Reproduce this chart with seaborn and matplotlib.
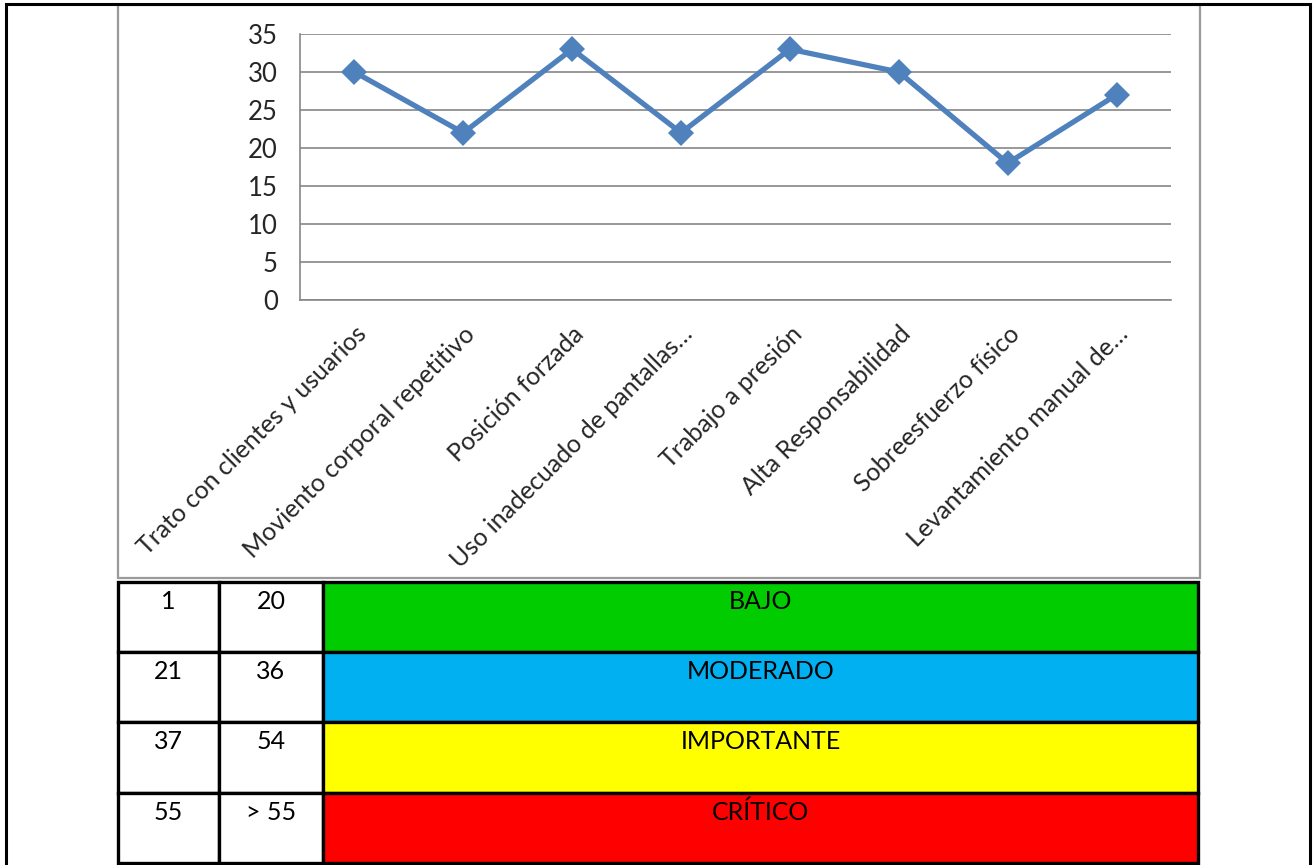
import numpy as np
import matplotlib
matplotlib.use("Agg")
import matplotlib.pyplot as plt
from matplotlib.patches import Rectangle
import seaborn as sns

# data
categories = [
    "Trato con clientes y usuarios",
    "Moviento corporal repetitivo",
    "Posición forzada",
    "Uso inadecuado de pantallas…",
    "Trabajo a presión",
    "Alta Responsabilidad",
    "Sobreesfuerzo físico",
    "Levantamiento manual de…",
]
values = [30, 22, 33, 22, 33, 30, 18, 27]

range_low = ["1", "21", "37", "55"]
range_high = ["20", "36", "54", "> 55"]
levels = ["BAJO", "MODERADO", "IMPORTANTE", "CRÍTICO"]
level_colors = ["#00CC00", "#00B0F0", "#FFFF00", "#FF0000"]

sns.set_style("white")
plt.rcParams["font.family"] = ["Lato", "DejaVu Sans"]

W, H = 1314, 865
fig = plt.figure(figsize=(W / 100, H / 100), dpi=100)

# background overlay in pixel coords
bg = fig.add_axes([0, 0, 1, 1], zorder=0)
bg.set_xlim(0, W)
bg.set_ylim(H, 0)
bg.axis("off")

# outer page frame
bg.plot([6, 6, 1310, 1310], [H + 5, 4, 4, H + 5], color="black", lw=2.2,
        solid_joinstyle="miter")
# chart box
bg.add_patch(Rectangle((118, 5), 1082, 573, facecolor="white",
                       edgecolor="#9a9a9a", lw=1.6))

# risk table
col_x = [118, 219, 323, 1198]
row_y = [582, 652, 722, 793, 863]
for i in range(len(levels)):
    y0, y1 = row_y[i], row_y[i + 1]
    cells = [range_low[i], range_high[i], levels[i]]
    fills = ["white", "white", level_colors[i]]
    for j in range(3):
        x0, x1 = col_x[j], col_x[j + 1]
        bg.add_patch(Rectangle((x0, y0), x1 - x0, y1 - y0, facecolor=fills[j],
                               edgecolor="black", lw=2.4))
        bg.text((x0 + x1) / 2, y0 + 8, cells[j], ha="center", va="top",
                fontsize=18, color="black")

# line chart
ax = fig.add_axes([300 / W, (H - 300) / H, 871 / W, 266 / H], zorder=2)
ax.patch.set_alpha(0)
x = np.arange(len(values))
sns.lineplot(x=x, y=values, ax=ax, color="#4F81BD", lw=3.8, marker="D",
             markersize=13, markeredgewidth=0)

ax.set_xlim(-0.5, len(values) - 0.5)
ax.set_ylim(0, 35)
ax.set_yticks(np.arange(0, 36, 5))
ax.set_xticks(np.arange(-0.5, len(values)), labels=[])
ax.set_xticks(x, minor=True)
ax.set_xticklabels(categories, minor=True, rotation=45, ha="right",
                   rotation_mode="anchor", fontsize=18)
ax.tick_params(axis="x", which="major", direction="out", length=8,
               color="#868686", width=1.1)
ax.tick_params(axis="x", which="minor", length=0, pad=16)
ax.tick_params(axis="y", direction="out", length=8, color="#868686",
               width=1.1, labelsize=18.5, pad=8)
ax.yaxis.grid(True, color="#868686", lw=1.2)
ax.set_axisbelow(True)
for s in ["top", "right"]:
    ax.spines[s].set_visible(False)
for s in ["left", "bottom"]:
    ax.spines[s].set_color("#868686")
    ax.spines[s].set_linewidth(1.2)
ax.set_xlabel("")
ax.set_ylabel("")

fig.savefig("out.png", dpi=100)
